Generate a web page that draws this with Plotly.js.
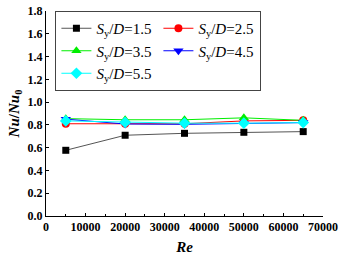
<!DOCTYPE html>
<html>
<head>
<meta charset="utf-8">
<script src="https://cdn.plot.ly/plotly-3.0.1.min.js"></script>
<style>html,body{margin:0;padding:0;background:#fff;}#chart{width:341px;height:259px;}</style>
</head>
<body>
<div id="chart"></div>
<script>
const re = [5000, 20000, 35000, 50000, 65000];
const sy15 = [0.577, 0.709, 0.726, 0.735, 0.741];
const sy25 = [0.81, 0.81, 0.81, 0.835, 0.84];
const sy35 = [0.855, 0.845, 0.845, 0.862, 0.84];
const sy45 = [0.85, 0.808, 0.805, 0.81, 0.82];
const sy55 = [0.835, 0.822, 0.815, 0.815, 0.82];
const labels = ['1.5', '2.5', '3.5', '4.5', '5.5'];
const seriesVals = [sy15, sy25, sy35, sy45, sy55];
const lineColors = ['#555555', '#ff0000', '#00ee00', '#0000ff', '#00ffff'];
const markColors = ['#000000', '#ff0000', '#00ee00', '#0000ff', '#00ffff'];
const symbols = ['square', 'circle', 'triangle-up', 'triangle-down', 'diamond'];
const sizes = [7, 8, 9, 9, 9];

const traces = seriesVals.map((v, i) => ({
  x: re, y: v, type: 'scatter', mode: 'lines+markers',
  name: '<i>S</i><sub>y</sub>/<i>D</i>=' + labels[i],
  line: {color: lineColors[i], width: 1},
  marker: {color: markColors[i], symbol: symbols[i], size: sizes[i]}
}));

const font = {family: 'Liberation Serif, Times New Roman, serif', color: '#000'};
const layout = {
  width: 341, height: 259,
  margin: {l: 46, r: 18, t: 11, b: 43},
  paper_bgcolor: '#fff', plot_bgcolor: '#fff',
  font: font,
  showlegend: true,
  legend: {
    x: 0.034, y: 1.0, xanchor: 'left', yanchor: 'top',
    orientation: 'h', entrywidth: 57, entrywidthmode: 'pixels',
    bordercolor: '#444', borderwidth: 1, bgcolor: '#fff',
    font: {family: font.family, size: 15, color: '#000'},
    itemwidth: 30, tracegroupgap: 0
  },
  xaxis: {
    range: [0, 70000], tickvals: [0, 10000, 20000, 30000, 40000, 50000, 60000, 70000],
    ticktext: ['0', '10000', '20000', '30000', '40000', '50000', '60000', '70000'],
    ticks: 'inside', ticklen: 3, tickcolor: '#000', tickwidth: 1,
    minor: {dtick: 5000, tick0: 0, ticks: 'inside', ticklen: 2, tickcolor: '#000'},
    showline: true, linecolor: '#000', linewidth: 1, showgrid: false, zeroline: false,
    tickfont: {family: font.family, size: 12, color: '#000', weight: 'bold'},
    title: {text: '<b><i>Re</i></b>', font: {family: font.family, size: 15, color: '#000'}, standoff: 8}
  },
  yaxis: {
    range: [0, 1.8], dtick: 0.2, tick0: 0, tickformat: '.1f',
    ticks: 'inside', ticklen: 3, tickcolor: '#000', tickwidth: 1,
    showline: true, linecolor: '#000', linewidth: 1, showgrid: false, zeroline: false,
    tickfont: {family: font.family, size: 12, color: '#000', weight: 'bold'},
    title: {text: '<b><i>Nu</i>/<i>Nu</i><sub>0</sub></b>', font: {family: font.family, size: 15, color: '#000'}, standoff: 4}
  }
};
Plotly.newPlot('chart', traces, layout, {staticPlot: true, displayModeBar: false});
</script>
</body>
</html>
